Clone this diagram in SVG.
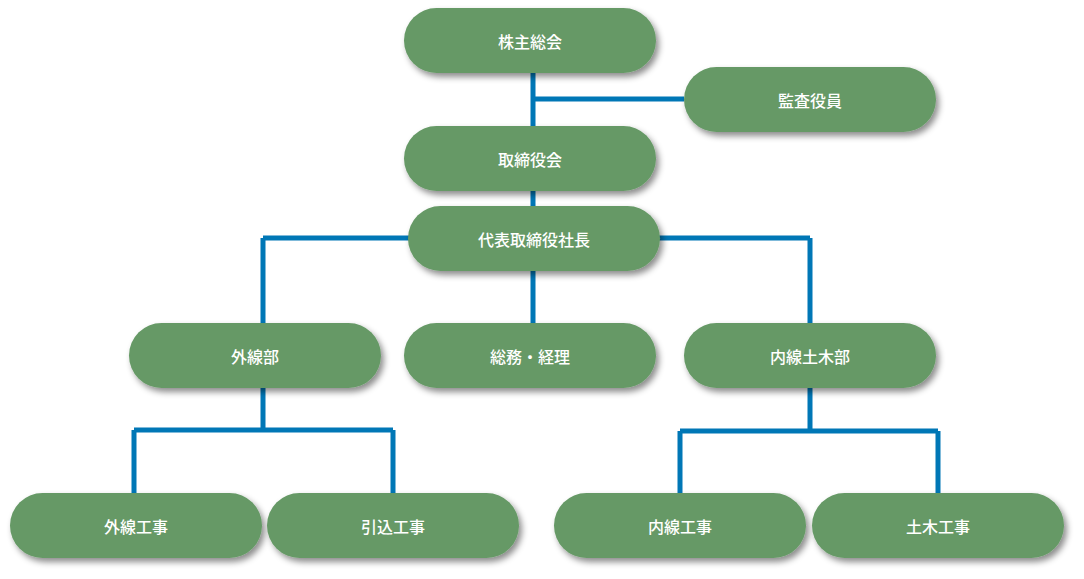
<svg xmlns="http://www.w3.org/2000/svg" width="1084" height="579" viewBox="0 0 1084 579">
<style>
.n rect{fill:#669966;filter:url(#sh)}
.n text{fill:#fff;font-family:"Noto Sans CJK JP",sans-serif;font-size:16px;font-weight:500;text-anchor:middle;dominant-baseline:central}
.c{stroke:#0077b6;stroke-width:5;fill:none}
</style>
<defs><filter id="sh" x="-10%" y="-20%" width="130%" height="160%"><feDropShadow dx="3" dy="4" stdDeviation="3" flood-color="#000" flood-opacity="0.45"/></filter></defs>
<rect width="1084" height="579" fill="#fff"/>
<g id="connectors">
<path class="c" d="M533 73V126M533 99H684M533 191V206M263 238H810M263 238V323M810 238V323M533 271V323M263 388V430M134 430H393M134 430V493M393 430V493M810 388V431M680 431H938M680 431V493M938 431V493"/>
</g>
<g id="n1" class="n"><rect x="404" y="8" width="252" height="65" rx="32.5"/><text x="530" y="41">株主総会</text></g>
<g id="n2" class="n"><rect x="684" y="67" width="252" height="65" rx="32.5"/><text x="810" y="100">監査役員</text></g>
<g id="n3" class="n"><rect x="404" y="126" width="252" height="65" rx="32.5"/><text x="530" y="159">取締役会</text></g>
<g id="n4" class="n"><rect x="408" y="206" width="252" height="65" rx="32.5"/><text x="534" y="239">代表取締役社長</text></g>
<g id="n5" class="n"><rect x="129" y="323" width="252" height="65" rx="32.5"/><text x="255" y="356">外線部</text></g>
<g id="n6" class="n"><rect x="404" y="323" width="252" height="65" rx="32.5"/><text x="530" y="356">総務・経理</text></g>
<g id="n7" class="n"><rect x="684" y="323" width="252" height="65" rx="32.5"/><text x="810" y="356">内線土木部</text></g>
<g id="n8" class="n"><rect x="10" y="493" width="252" height="65" rx="32.5"/><text x="136" y="526">外線工事</text></g>
<g id="n9" class="n"><rect x="267" y="493" width="252" height="65" rx="32.5"/><text x="393" y="526">引込工事</text></g>
<g id="n10" class="n"><rect x="554" y="493" width="252" height="65" rx="32.5"/><text x="680" y="526">内線工事</text></g>
<g id="n11" class="n"><rect x="812" y="493" width="252" height="65" rx="32.5"/><text x="938" y="526">土木工事</text></g>
</svg>
